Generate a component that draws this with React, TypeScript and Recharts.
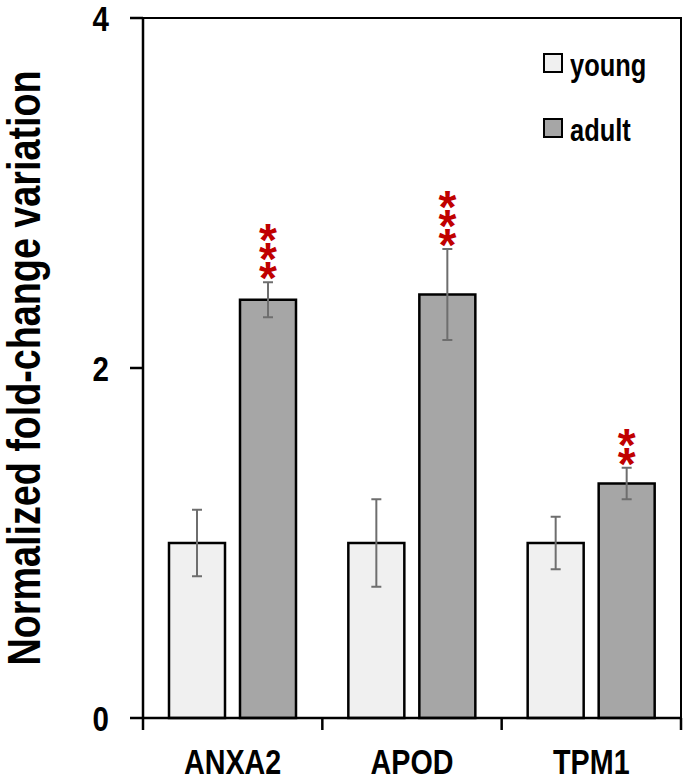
import React from 'react';
import { BarChart, Bar, XAxis, YAxis, ErrorBar, LabelList, Label, ReferenceArea } from 'recharts';

const genes = ['ANXA2', 'APOD', 'TPM1'];
const young = [1.0, 1.0, 1.0];
const adult = [2.39, 2.42, 1.34];
const youngErr = [0.19, 0.25, 0.15];
const adultErr = [0.1, 0.26, 0.09];
const stars = [3, 3, 2];
const yTicks = [0, 2, 4];
const seriesNames = ['young', 'adult'];

const data = genes.map((g, i) => ({
  gene: g,
  young: young[i],
  adult: adult[i],
  youngErr: youngErr[i],
  adultErr: adultErr[i],
  stars: stars[i],
}));

const FONT = "'Liberation Sans',Arial,sans-serif";
const NARROW = 0.82;
const YOUNG_FILL = '#f0f0f0';
const ADULT_FILL = '#a6a6a6';
const ERR_COLOR = '#6e6e6e';
const STAR_COLOR = '#c00000';
const X_TICK_SIZE = 12;
const X_TICK_MARGIN = 19;

const XTick = (props: any) => {
  const { x, y, payload, index, visibleTicksCount, width } = props;
  const off = payload && typeof payload.offset === 'number' && payload.offset > 0
    ? payload.offset
    : width / visibleTicksCount / 2;
  const y0 = y - X_TICK_MARGIN - X_TICK_SIZE;
  const y1 = y - X_TICK_MARGIN;
  return (
    <g>
      <line x1={x - off} x2={x - off} y1={y0} y2={y1} stroke="#000" strokeWidth={2.5} />
      {index === visibleTicksCount - 1 && (
        <line x1={x + off} x2={x + off} y1={y0} y2={y1} stroke="#000" strokeWidth={2.5} />
      )}
      <text transform={`translate(${x},${y}) scale(${NARROW},1)`} x={0} y={0} dy="0.71em" textAnchor="middle"
        fontSize={35} fontWeight={700} fontFamily={FONT} fill="#000">
        {payload.value}
      </text>
    </g>
  );
};

const YTick = (props: any) => {
  const { x, y, payload } = props;
  return (
    <text transform={`translate(${x},${y}) scale(${NARROW},1)`} x={0} y={0} dy="0.36em" textAnchor="end"
      fontSize={36} fontWeight={700} fontFamily={FONT} fill="#000">
      {payload.value}
    </text>
  );
};

const StarLabel = (props: any) => {
  const { x, y, width, height, value, index } = props;
  if (!value) return null;
  const perUnit = height / adult[index];
  const errTop = y - adultErr[index] * perUnit;
  const cx = x + width / 2;
  const fs = 46;
  const items = [];
  for (let i = 0; i < value; i++) {
    const cy = errTop - 14 - i * 19;
    items.push(
      <text key={i} x={cx} y={cy + fs * 0.57} textAnchor="middle" fontSize={fs} fontWeight={700}
        fontFamily={FONT} fill={STAR_COLOR}>
        *
      </text>
    );
  }
  return <g>{items}</g>;
};

const YLabel = (props: any) => {
  const vb = props.viewBox || { x: 0, y: 0, width: 0, height: 0 };
  const cx = vb.x + 23;
  const cy = vb.y + vb.height / 2;
  return (
    <text transform={`translate(${cx},${cy}) rotate(-90) scale(${NARROW},1)`} x={0} y={0} textAnchor="middle"
      dy="0.36em" fontSize={46} fontWeight={700} fontFamily={FONT} fill="#000">
      Normalized fold-change variation
    </text>
  );
};

const LegendBox = () => (
  <div style={{ position: 'absolute', left: 543, top: 53 }}>
    {seriesNames.map((n, i) => (
      <div key={n} style={{ position: 'absolute', left: 0, top: i * 65, width: 140, height: 20 }}>
        <div style={{
          position: 'absolute', left: 0, top: 0, width: 16, height: 16, border: '2px solid #000',
          background: i === 0 ? YOUNG_FILL : ADULT_FILL,
        }} />
        <span style={{
          position: 'absolute', left: 27, top: 3, lineHeight: '20px', fontSize: 31, fontWeight: 700,
          fontFamily: FONT, color: '#000', whiteSpace: 'nowrap',
          transform: `scaleX(${NARROW})`, transformOrigin: 'left center',
        }}>{n}</span>
      </div>
    ))}
  </div>
);

export default function App() {
  return (
    <div style={{ position: 'absolute', left: 0, top: 0, width: 685, height: 779, background: '#fff' }}>
      <BarChart width={685} height={779} data={data} margin={{ top: 18, right: 4, left: 0, bottom: 0 }}
        barCategoryGap="14.5%" barGap={15}>
        <XAxis dataKey="gene" height={61} axisLine={{ stroke: '#000', strokeWidth: 2.5 }}
          tickLine={false} tickSize={X_TICK_SIZE} tickMargin={X_TICK_MARGIN} tick={<XTick />} interval={0} />
        <YAxis width={143} domain={[0, 4]} ticks={yTicks} tickSize={13} tickMargin={21}
          axisLine={{ stroke: '#000', strokeWidth: 2.5 }} tickLine={{ stroke: '#000', strokeWidth: 2.5 }}
          tick={<YTick />}>
          <Label content={<YLabel />} />
        </YAxis>
        <ReferenceArea x1={genes[0]} x2={genes[genes.length - 1]} y1={0} y2={4} fill="none"
          stroke="#000" strokeWidth={2} ifOverflow="visible" />
        <Bar dataKey="young" fill={YOUNG_FILL} stroke="#000" strokeWidth={2.5} isAnimationActive={false}>
          <ErrorBar dataKey="youngErr" width={5} stroke={ERR_COLOR} strokeWidth={2} />
        </Bar>
        <Bar dataKey="adult" fill={ADULT_FILL} stroke="#000" strokeWidth={2.5} isAnimationActive={false}>
          <ErrorBar dataKey="adultErr" width={5} stroke={ERR_COLOR} strokeWidth={2} />
          <LabelList dataKey="stars" content={<StarLabel />} />
        </Bar>
      </BarChart>
      <LegendBox />
    </div>
  );
}
